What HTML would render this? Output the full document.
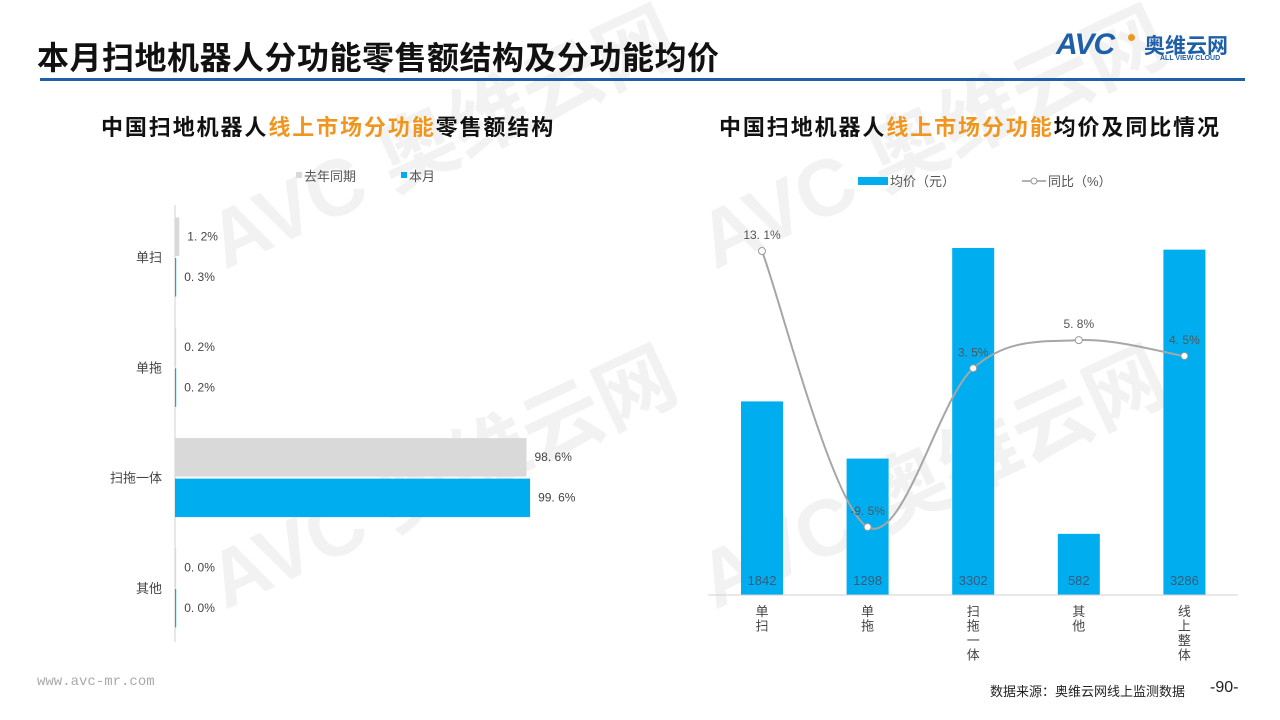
<!DOCTYPE html>
<html><head><meta charset="utf-8"><style>
body{margin:0;width:1280px;height:720px;overflow:hidden;background:#fff;font-family:"Liberation Sans","Noto Sans CJK SC",sans-serif;position:relative}
.abs{position:absolute;white-space:nowrap}
</style></head><body>
<svg class="abs" style="left:0;top:0" width="1280" height="720">
<g fill="#f2f2f2" font-family="Liberation Sans,Noto Sans CJK SC,sans-serif" font-weight="bold">
<text x="225" y="270" font-size="80" transform="rotate(-25 225 270)">AVC 奥维云网</text>
<text x="715" y="270" font-size="80" transform="rotate(-25 715 270)">AVC 奥维云网</text>
<text x="225" y="610" font-size="80" transform="rotate(-25 225 610)">AVC 奥维云网</text>
<text x="715" y="610" font-size="80" transform="rotate(-25 715 610)">AVC 奥维云网</text>
</g></svg>
<div class="abs" style="left:37px;top:33px;font-size:32px;font-weight:bold;color:#111;letter-spacing:0.5px">本月扫地机器人分功能零售额结构及分功能均价</div>
<div class="abs" style="left:1056px;top:28px;width:190px;height:40px;color:#1f5fa8">
<span style="position:absolute;left:0;top:0;font-size:30px;font-weight:bold;font-style:italic;letter-spacing:-1px">AVC</span><span style="position:absolute;left:72px;top:6px;width:7px;height:7px;border-radius:50%;background:#f0961e"></span>
<span style="position:absolute;left:88px;top:2px;font-size:21px;font-weight:bold">奥维云网</span>
<span style="position:absolute;left:104px;top:27px;font-size:7px;font-weight:bold">ALL VIEW CLOUD</span></div>
<div class="abs" style="left:40px;top:78px;width:1205px;height:3px;background:#1f5fa8"></div>
<div class="abs" style="left:101px;top:110px;font-size:22px;font-weight:bold;color:#111;letter-spacing:1.9px">中国扫地机器人<span style="color:#f0961e">线上市场分功能</span>零售额结构</div>
<div class="abs" style="left:719px;top:110px;font-size:22px;font-weight:bold;color:#111;letter-spacing:1.9px">中国扫地机器人<span style="color:#f0961e">线上市场分功能</span>均价及同比情况</div>
<svg id="left" class="abs" style="left:0;top:0" width="640" height="720"></svg>
<svg id="right" class="abs" style="left:0;top:0" width="1280" height="720"></svg>
<div class="abs" style="left:37px;top:674px;font-size:14px;color:#aaa;font-family:'Liberation Mono',monospace">www.avc-mr.com</div>
<div class="abs" style="left:990px;top:681px;font-size:13px;color:#222">数据来源：奥维云网线上监测数据</div>
<div class="abs" style="left:1210px;top:679px;font-size:16px;color:#222">-90-</div>
<script>
const leftCats=["单扫","单拖","扫拖一体","其他"];
const lastYear=[1.2,0.2,98.6,0.0];
const thisMonth=[0.3,0.2,99.6,0.0];
const rightCats=["单扫","单拖","扫拖一体","其他","线上整体"];
const avgPrice=[1842,1298,3302,582,3286];
const yoy=[13.1,-9.5,3.5,5.8,4.5];
const NS="http://www.w3.org/2000/svg";
function mk(p,t,a){const e=document.createElementNS(NS,t);for(const k in a)e.setAttribute(k,a[k]);p.appendChild(e);return e;}
const F='Liberation Sans,Noto Sans CJK SC,sans-serif';
const L=document.getElementById('left');
const x0=175, xs=v=>x0+v*3.565, cy=i=>257+i*110.3;
let ax=mk(L,'line',{x1:x0,y1:205,x2:x0,y2:642,stroke:'#d0d0d0'});

let lg=mk(L,'rect',{x:296,y:172,width:6,height:6,fill:'#d9d9d9'});

let lt=mk(L,'text',{x:304,y:181,'font-size':13,fill:'#555','font-family':F});lt.textContent='去年同期';

lg=mk(L,'rect',{x:401,y:172,width:6,height:6,fill:'#00aeef'});

lt=mk(L,'text',{x:409,y:181,'font-size':13,fill:'#555','font-family':F});lt.textContent='本月';

leftCats.forEach((c,i)=>{
 const y=cy(i);
 const t=mk(L,'text',{x:162,y:y+5,'font-size':13,fill:'#444','text-anchor':'end','font-family':F});t.textContent=c;
 
 [[lastYear,'#d9d9d9',-39.5],[thisMonth,'#00aeef',1]].forEach(([arr,col,off],k)=>{
  const v=arr[i];const w=Math.max(xs(v)-x0,1.2);
  const b=mk(L,'rect',{x:x0,y:y+off,width:w,height:38.5,fill:col});
  
  const tt=mk(L,'text',{x:x0+w+8,y:y+off+23,'font-size':12,fill:'#444','font-family':F});tt.textContent=v.toFixed(1).replace('.','. ')+'%';
  
 });
});
const R=document.getElementById('right');
const base=595, cx=i=>762+i*105.6, yb=v=>base-v*0.1051, yl=v=>411-v*12.21;
let rg=mk(R,'rect',{x:858,y:177,width:30,height:8,fill:'#00aeef'});

let rt=mk(R,'text',{x:890,y:186,'font-size':13,fill:'#555','font-family':F});rt.textContent='均价（元）';

let rl=mk(R,'line',{x1:1022,y1:181,x2:1046,y2:181,stroke:'#999','stroke-width':1.5});

mk(R,'circle',{cx:1034,cy:181,r:3,fill:'#fff',stroke:'#999'});
rt=mk(R,'text',{x:1048,y:186,'font-size':13,fill:'#555','font-family':F});rt.textContent='同比（%）';

rightCats.forEach((c,i)=>{
 const b=mk(R,'rect',{x:cx(i)-21,y:yb(avgPrice[i]),width:42,height:base-yb(avgPrice[i]),fill:'#00aeef'});
 
 const t=mk(R,'text',{x:cx(i),y:585,'font-size':13,fill:'#3a5a78','text-anchor':'middle','font-family':F});t.textContent=avgPrice[i];
 
 [...c].forEach((ch,j)=>{const s=mk(R,'text',{x:cx(i),y:616+j*14.5,'font-size':13,fill:'#444','text-anchor':'middle','font-family':F});s.textContent=ch;
  });
});
let xa=mk(R,'line',{x1:708,y1:base,x2:1238,y2:base,stroke:'#d0d0d0'});

const pts=yoy.map((v,i)=>[cx(i),yl(v)]);
let d='M'+pts[0][0]+','+pts[0][1];
for(let i=0;i<pts.length-1;i++){const p0=pts[Math.max(i-1,0)],p1=pts[i],p2=pts[i+1],p3=pts[Math.min(i+2,pts.length-1)];
 d+=` C${p1[0]+(p2[0]-p0[0])/6},${p1[1]+(p2[1]-p0[1])/6} ${p2[0]-(p3[0]-p1[0])/6},${p2[1]-(p3[1]-p1[1])/6} ${p2[0]},${p2[1]}`;}
const ln=mk(R,'path',{d:d,fill:'none',stroke:'#a6a6a6','stroke-width':2});

pts.forEach((p,i)=>{
 const c=mk(R,'circle',{cx:p[0],cy:p[1],r:3.5,fill:'#fff',stroke:'#999'});
 
 const t=mk(R,'text',{x:p[0],y:p[1]-12,'font-size':12,fill:'#555','text-anchor':'middle','font-family':F});t.textContent=yoy[i].toFixed(1).replace('.','. ')+'%';
 
});
</script>
</body></html>
